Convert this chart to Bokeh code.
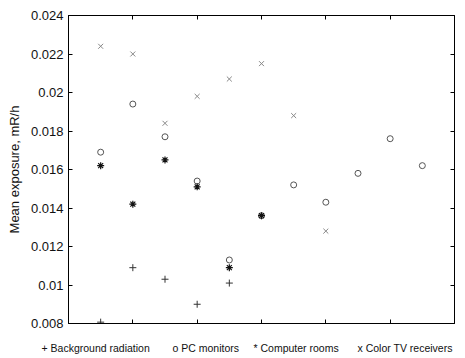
from bokeh.plotting import figure
from bokeh.models import LinearAxis, FixedTicker, NumeralTickFormatter, Label, Range1d
from bokeh.layouts import column
from bokeh.embed import file_html
from bokeh.resources import INLINE

x_all = [0.5, 1.0, 1.5, 2.0, 2.5, 3.0, 3.5, 4.0, 4.5, 5.0, 5.5]
background = [0.00807, 0.0109, 0.0103, 0.0090, 0.0101]
pc_monitors = [0.0169, 0.0194, 0.0177, 0.0154, 0.0113, 0.0136, 0.0152, 0.0143, 0.0158, 0.0176, 0.0162]
computer_rooms = [0.0162, 0.0142, 0.0165, 0.0151, 0.0109, 0.0136]
color_tv = [0.0224, 0.0220, 0.0184, 0.0198, 0.0207, 0.0215, 0.0188, 0.0128]
y_ticks = [0.008, 0.010, 0.012, 0.014, 0.016, 0.018, 0.020, 0.022, 0.024]
x_ticks = [1, 2, 3, 4, 5]
legend_texts = ["+ Background radiation", "o PC monitors", "* Computer rooms", "x Color TV receivers"]

FONT = "Liberation Sans"

p = figure(width=465, height=330, output_backend="svg", toolbar_location=None,
           x_range=Range1d(0, 6), y_range=Range1d(0.008, 0.024),
           x_axis_location=None, y_axis_location=None,
           min_border_left=68, min_border_right=11, min_border_top=15, min_border_bottom=7)
p.frame_align = False
p.grid.visible = False
p.outline_line_color = "black"
p.outline_line_width = 1
p.background_fill_color = "white"
p.border_fill_color = "white"

def make_axis(ticks, labels):
    ax = LinearAxis(ticker=FixedTicker(ticks=ticks))
    ax.major_tick_in = 4
    ax.major_tick_out = 0
    ax.minor_tick_line_color = None
    ax.axis_line_color = "black"
    ax.major_tick_line_color = "black"
    if labels:
        ax.major_label_text_font = FONT
        ax.major_label_text_font_size = "13px"
        ax.major_label_text_color = "#111111"
        ax.major_label_standoff = 5
        ax.formatter = NumeralTickFormatter(format="0.[000]")
    else:
        ax.major_label_text_font_size = "1px"
        ax.major_label_text_alpha = 0
        ax.major_label_standoff = 0
    return ax

yl = make_axis(y_ticks, True)
yl.axis_label = "Mean exposure, mR/h"
yl.axis_label_text_font = FONT
yl.axis_label_text_font_size = "13px"
yl.axis_label_text_font_style = "normal"
yl.axis_label_text_color = "#111111"
yl.axis_label_standoff = 6
p.add_layout(yl, "left")
p.add_layout(make_axis(y_ticks, False), "right")
p.add_layout(make_axis(x_ticks, False), "below")
p.add_layout(make_axis(x_ticks, False), "above")

p.scatter(x_all[:len(background)], background, marker="cross", size=7, line_color="#333333", line_width=1)
p.scatter(x_all[:len(pc_monitors)], pc_monitors, marker="circle", size=6, line_color="#555555",
          fill_color=None, line_width=1)
p.scatter(x_all[:len(computer_rooms)], computer_rooms, marker="asterisk", size=7, line_color="#111111", line_width=1.2)
p.scatter(x_all[:len(color_tv)], color_tv, marker="x", size=7, line_color="#888888", line_width=1)

# legend row as a separate text strip (not frame-aligned with the plot)
lg = figure(width=465, height=28, output_backend="svg", toolbar_location=None,
            x_range=Range1d(0, 465), y_range=Range1d(0, 28),
            x_axis_location=None, y_axis_location=None, min_border=0)
lg.frame_align = False
lg.grid.visible = False
lg.outline_line_color = None
lg.background_fill_color = "white"
lg.border_fill_color = "white"
legend_x = [41, 172, 253, 357]
for t, lx in zip(legend_texts, legend_x):
    lg.add_layout(Label(x=lx, y=11, text=t,
                        text_font=FONT, text_font_size="10.5px", text_color="#111111",
                        text_baseline="middle"))

open("out.html", "w").write(file_html(column(p, lg, spacing=0), INLINE))
